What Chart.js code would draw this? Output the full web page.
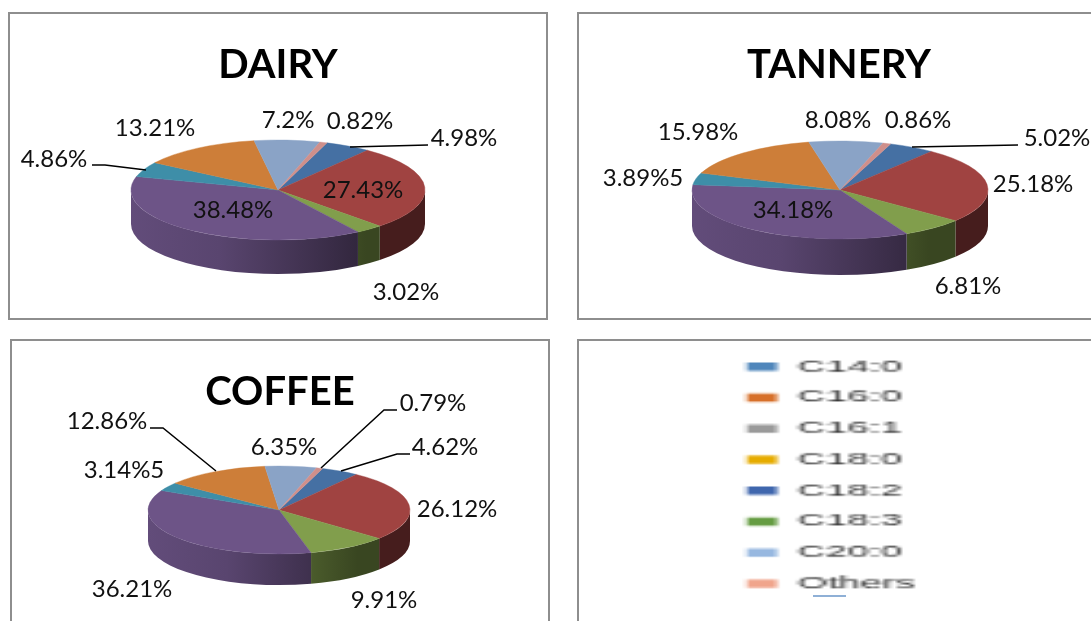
<!DOCTYPE html>
<html>
<head>
<meta charset="utf-8">
<script src="https://cdn.jsdelivr.net/npm/chart.js@4"></script>
<style>
  html, body { margin: 0; padding: 0; background: #fff; overflow: hidden; width: 1091px; height: 621px; }
  .panel { position: absolute; box-sizing: border-box; border: 2px solid #8e8e8e; background: #fff; }
  .panel canvas { position: absolute; left: 0; top: 0; }
  #legendCanvas { transform-origin: 0 0; }
  #sliver { position: absolute; background: #8fb0d6; }
</style>
</head>
<body>
<div class="panel" style="left:8px;top:12px;width:540px;height:308px"><canvas id="dairyChart" width="536" height="304"></canvas></div>
<div class="panel" style="left:577px;top:12px;width:539px;height:308px"><canvas id="tanneryChart" width="520" height="304"></canvas></div>
<div class="panel" style="left:10px;top:339px;width:540px;height:309px"><canvas id="coffeeChart" width="536" height="305"></canvas></div>
<div class="panel" style="left:577px;top:339px;width:540px;height:309px"><canvas id="legendCanvas" width="150" height="150"></canvas><div id="sliver" style="left:234px;top:254px;width:33px;height:2px"></div></div>
<script>
// slice order, clockwise from the blue wedge at the top right
const sliceNames = ['C18:2', 'C18:1', 'C18:3', 'C18:1 n9', 'C14:1', 'C16:0', 'C20:0', 'Others'];
const sliceColors = ['#4570a3', '#a04341', '#819e4c', '#6d5487', '#3e8ea8', '#cd7e39', '#8aa3c6', '#cf8f8b'];

const dairyValues = [4.98, 27.43, 3.02, 38.48, 4.86, 13.21, 7.2, 0.82];
const tanneryValues = [5.02, 25.18, 6.81, 34.18, 3.89, 15.98, 8.08, 0.86];
const coffeeValues = [4.62, 26.12, 9.91, 36.21, 3.14, 12.86, 6.35, 0.79];

const dairyLabels = ['4.98%', '27.43%', '3.02%', '38.48%', '4.86%', '13.21%', '7.2%', '0.82%'];
const tanneryLabels = ['5.02%', '25.18%', '6.81%', '34.18%', '3.89%5', '15.98%', '8.08%', '0.86%'];
const coffeeLabels = ['4.62%', '26.12%', '9.91%', '36.21%', '3.14%5', '12.86%', '6.35%', '0.79%'];

const legendNames = ['C14:0', 'C16:0', 'C16:1', 'C18:0', 'C18:2', 'C18:3', 'C20:0', 'Others'];
const legendColors = ['#4f86bb', '#d7702a', '#9a9a9a', '#e6ac00', '#3f66ad', '#659c42', '#97b8e0', '#f0a58c'];

const labelFont = '24px Lato, Carlito, sans-serif';
const titleFont = { family: 'Lato, Carlito, sans-serif', size: 40, weight: 'bold' };

// page coordinates, same slice order as the label lists
const dairyLayout = {
  panel: [10, 14], cx: 278, cy: 190, rx: 147, ry: 50, depth: 34, rotation: 19.5,
  labelPos: [[464, 138], [363, 190], [406, 292], [233, 210], [54, 159], [155, 128], [288, 120], [360, 121]],
  leaders: [[[428, 145], [350, 147]], [[92, 165], [105, 165], [146, 170]]]
};
const tanneryLayout = {
  panel: [579, 14], cx: 840, cy: 190, rx: 148, ry: 49, depth: 36, rotation: 20,
  labelPos: [[1057, 138], [1033, 184], [968, 286], [793, 210], [643, 178], [698, 132], [838, 120], [918, 120]],
  leaders: [[[1018, 145], [912, 147]]]
};
const coffeeLayout = {
  panel: [12, 341], cx: 279, cy: 510, rx: 131, ry: 44, depth: 31, rotation: 19.5,
  labelPos: [[445, 447], [457, 509], [384, 600], [132, 589], [124, 470], [107, 421], [284, 447], [433, 403]],
  leaders: [[[150, 428], [163, 428], [216, 471]], [[397, 410], [384, 410], [321, 468]], [[410, 454], [397, 454], [341, 471]]]
};

function shade(hex, f) {
  const n = parseInt(hex.slice(1), 16);
  const r = Math.round(((n >> 16) & 255) * f);
  const g = Math.round(((n >> 8) & 255) * f);
  const b = Math.round((n & 255) * f);
  return `rgb(${r},${g},${b})`;
}

// squashes the library's arcs into an ellipse and puts a side wall under them
const tiltPlugin = {
  id: 'tilt',
  beforeDatasetsDraw(chart, args, opts) {
    const ctx = chart.ctx;
    const arcs = chart.getDatasetMeta(0).data;
    const cx = opts.cx - opts.panel[0];
    const cy = opts.cy - opts.panel[1];
    arcs.forEach((arc, i) => {
      const grad = ctx.createLinearGradient(cx - opts.rx, 0, cx + opts.rx, 0);
      const base = sliceColors[i];
      grad.addColorStop(0, shade(base, 0.9));
      grad.addColorStop(0.3, shade(base, 0.82));
      grad.addColorStop(0.8, shade(base, 0.44));
      grad.addColorStop(1, shade(base, 0.44));
      ctx.fillStyle = grad;
      for (let k = -1; k <= 2; k++) {
        const lo = Math.max(arc.startAngle, 2 * Math.PI * k);
        const hi = Math.min(arc.endAngle, Math.PI + 2 * Math.PI * k);
        if (lo >= hi) continue;
        ctx.beginPath();
        ctx.ellipse(cx, cy, opts.rx, opts.ry, 0, lo, hi);
        ctx.ellipse(cx, cy + opts.depth, opts.rx, opts.ry, 0, hi, lo, true);
        ctx.closePath();
        ctx.fill();
      }
    });
    const first = arcs[0];
    ctx.save();
    ctx.translate(cx, cy);
    ctx.scale(opts.rx / first.outerRadius, opts.ry / first.outerRadius);
    ctx.translate(-first.x, -first.y);
  },
  afterDatasetsDraw(chart, args, opts) {
    const ctx = chart.ctx;
    ctx.restore();
    const [ox, oy] = opts.panel;
    ctx.strokeStyle = '#000';
    ctx.lineWidth = 1.5;
    opts.leaders.forEach((line) => {
      ctx.beginPath();
      line.forEach((p, i) => {
        if (i === 0) ctx.moveTo(p[0] - ox, p[1] - oy);
        else ctx.lineTo(p[0] - ox, p[1] - oy);
      });
      ctx.stroke();
    });
    ctx.font = labelFont;
    ctx.fillStyle = '#111';
    ctx.textAlign = 'center';
    ctx.textBaseline = 'middle';
    opts.labels.forEach((text, i) => {
      ctx.fillText(text, opts.labelPos[i][0] - ox, opts.labelPos[i][1] - oy);
    });
  }
};

function makePie(id, title, values, labels, layout) {
  return new Chart(document.getElementById(id), {
    type: 'pie',
    data: {
      labels: sliceNames,
      datasets: [{
        data: values,
        backgroundColor: sliceColors,
        borderColor: sliceColors,
        borderWidth: 0.5,
        clip: false
      }]
    },
    options: {
      responsive: false,
      animation: false,
      rotation: layout.rotation,
      events: [],
      plugins: {
        legend: { display: false },
        tooltip: { enabled: false },
        title: {
          display: true,
          text: title,
          color: '#000',
          font: titleFont,
          padding: { top: 27, bottom: 0 }
        },
        tilt: { ...layout, labels }
      }
    },
    plugins: [tiltPlugin]
  });
}

makePie('dairyChart', 'DAIRY', dairyValues, dairyLabels, dairyLayout);
makePie('tanneryChart', 'TANNERY', tanneryValues, tanneryLabels, tanneryLayout);
makePie('coffeeChart', 'COFFEE', coffeeValues, coffeeLabels, coffeeLayout);

// legend is drawn small and stretched so it has the same blurry wide look
const legendScaleX = 4.37;
const legendScaleY = 1.85;
const legendCanvas = document.getElementById('legendCanvas');
new Chart(legendCanvas, {
  type: 'pie',
  data: {
    labels: legendNames,
    datasets: [{ data: legendNames.map(() => 1), backgroundColor: legendColors, borderWidth: 0, radius: 0 }]
  },
  options: {
    responsive: false,
    animation: false,
    events: [],
    plugins: {
      tooltip: { enabled: false },
      legend: {
        position: 'left',
        align: 'start',
        labels: {
          color: '#2e2e2e',
          boxWidth: 6.9,
          boxHeight: 4.3,
          padding: 7.75,
          font: { family: 'Liberation Sans', size: 9 }
        }
      }
    }
  }
});
legendCanvas.style.transform = `translate(134px, 3px) scale(${legendScaleX}, ${legendScaleY})`;
</script>
</body>
</html>
